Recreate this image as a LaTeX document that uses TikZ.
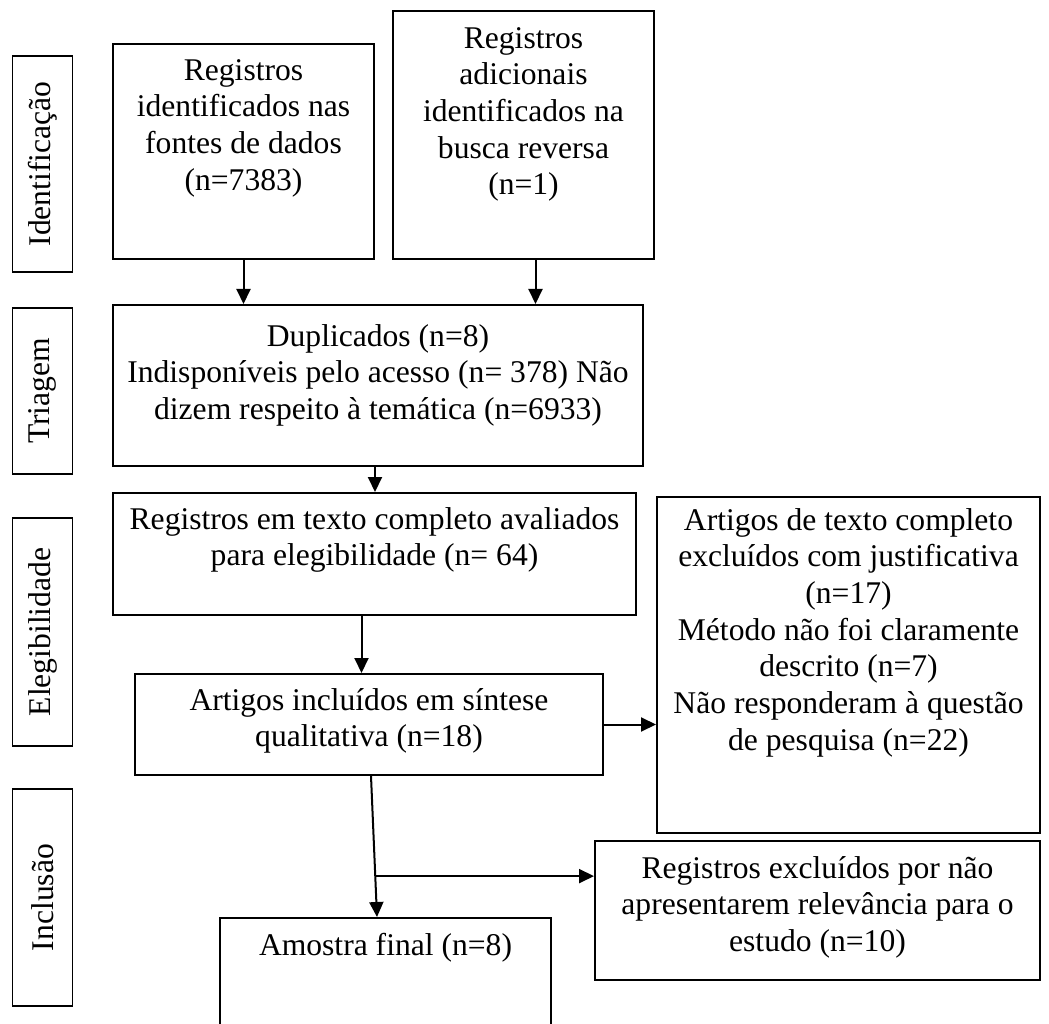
\documentclass[tikz,border=0pt]{standalone}
\usepackage{fontspec}
\setmainfont{Liberation Serif}
\usetikzlibrary{arrows.meta, positioning}

\tikzset{
  caixa/.style={draw, line width=2pt, inner sep=0pt},
  texto/.style={align=center, inner sep=0pt, font=\fontsize{31.6}{36.7}\selectfont},
  fase/.style={draw, line width=1.2pt, rotate=90, minimum height=60pt, inner sep=0pt,
    font=\fontsize{31.6}{36.7}\selectfont},
  seta/.style={-{Triangle[width=14pt,length=15pt]}, line width=2pt},
}

\begin{document}
\begin{tikzpicture}[x=1pt, y=-1pt]
    \useasboundingbox (0,0) rectangle (1049,1024);
    \clip (0,0) rectangle (1049,1024);
    % fases (caixas laterais)
    \foreach \nome/\txt/\y/\h in {identificacao/Identificação/164/216, triagemLbl/Triagem/391/166,
        elegibilidade/Elegibilidade/632/228, inclusao/Inclusão/897.5/217} {
      \node[fase, minimum width=\h pt] (\nome) at (42.5,\y) {\txt};
    }
    % caixas do fluxo
    \node[caixa, minimum width=261pt, minimum height=215pt] (fontes) at (243.5,151.5) {};
    \node[texto, below=16pt of fontes.north] (fontesTxt) {Registros\\identificados nas\\fontes de dados\\(n=7383)};
    \node[caixa, minimum width=261pt, minimum height=248pt] (adicionais) at (523.5,135) {};
    \node[texto, below=17pt of adicionais.north] (adicionaisTxt) {Registros\\adicionais\\identificados na\\busca reversa\\(n=1)};
    \node[caixa, minimum width=530pt, minimum height=161pt] (triagem) at (378,385.5) {};
    \node[texto, below=20pt of triagem.north] (triagemTxt) {Duplicados (n=8)\\Indisponíveis pelo acesso (n= 378) Não\\dizem respeito à temática (n=6933)};
    \node[caixa, minimum width=523pt, minimum height=122pt] (elegiveis) at (374.5,554) {};
    \node[texto, below=15pt of elegiveis.north] (elegiveisTxt) {Registros em texto completo avaliados\\para elegibilidade (n= 64)};
    \node[caixa, minimum width=468pt, minimum height=101pt] (incluidos) at (369,724.5) {};
    \node[texto, below=15pt of incluidos.north] (incluidosTxt) {Artigos incluídos em síntese\\qualitativa (n=18)};
    \node[caixa, minimum width=383pt, minimum height=336pt] (justificados) at (848.5,665) {};
    \node[texto, below=12pt of justificados.north] (justificadosTxt) {Artigos de texto completo\\excluídos com justificativa\\(n=17)\\Método não foi claramente\\descrito (n=7)\\Não responderam à questão\\de pesquisa (n=22)};
    \node[caixa, minimum width=445pt, minimum height=139pt] (irrelevantes) at (817.5,910.5) {};
    \node[texto, below=16pt of irrelevantes.north] (irrelevantesTxt) {Registros excluídos por não\\apresentarem relevância para o\\estudo (n=10)};
    \node[caixa, minimum width=331pt, minimum height=122pt] (amostra) at (385.5,979) {};
    \node[texto, below=16pt of amostra.north] (amostraTxt) {Amostra final (n=8)};
    % setas
    \draw[seta] (fontes.south) -- (fontes.south |- triagem.north);
    \draw[seta] ([xshift=12pt]adicionais.south) -- ([xshift=12pt]adicionais.south |- triagem.north);
    \draw[seta] ([xshift=-3pt]triagem.south) -- ([xshift=-3pt]triagem.south |- elegiveis.north);
    \draw[seta] ([xshift=-13pt]elegiveis.south) -- ([xshift=-13pt]elegiveis.south |- incluidos.north);
    \draw[seta] (incluidos.east) -- (incluidos.east -| justificados.west);
    \draw[seta] ([xshift=2pt]incluidos.south) -- coordinate[pos=0.71] (ramo) ([xshift=-8.5pt]amostra.north);
    \draw[seta] (ramo) -- (ramo -| irrelevantes.west);
\end{tikzpicture}
\end{document}
